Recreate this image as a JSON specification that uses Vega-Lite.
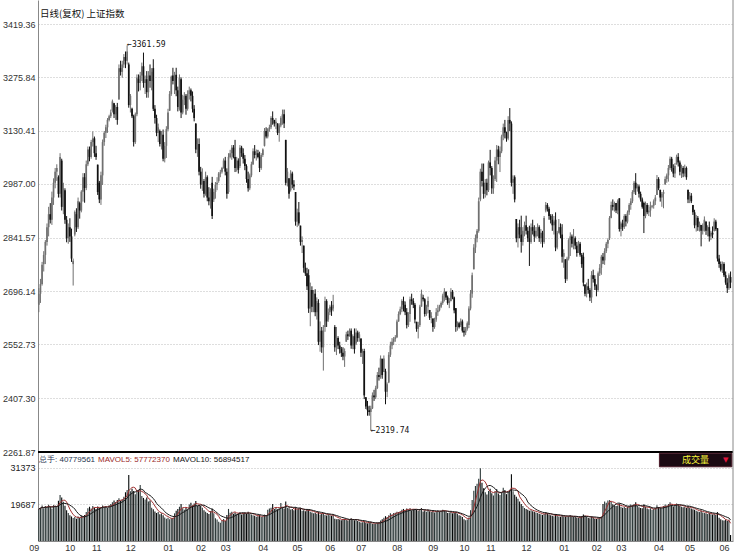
{
  "$schema": "https://vega.github.io/schema/vega-lite/v6.json",
  "width": 695,
  "height": 541,
  "autosize": {"type": "none"},
  "padding": {"left": 38, "top": 0, "right": 9, "bottom": 16},
  "background": "white",
  "config": {"view": {"stroke": null}, "font": "Liberation Sans"},
  "data": {"values": [
{"i":0,"o":2660,"h":2705,"l":2640,"c":2690,"v":18200},
{"i":1,"o":2690,"h":2730,"l":2665,"c":2716,"v":18600},
{"i":2,"o":2716,"h":2776,"l":2712,"c":2768,"v":19300},
{"i":3,"o":2770,"h":2805,"l":2750,"c":2795,"v":18400},
{"i":4,"o":2795,"h":2835,"l":2770,"c":2830,"v":19100},
{"i":5,"o":2830,"h":2880,"l":2820,"c":2870,"v":18700},
{"i":6,"o":2870,"h":2925,"l":2845,"c":2905,"v":19500},
{"i":7,"o":2905,"h":2935,"l":2880,"c":2890,"v":18900},
{"i":8,"o":2890,"h":2966,"l":2876,"c":2950,"v":18300},
{"i":9,"o":2950,"h":3002,"l":2930,"c":2990,"v":19400},
{"i":10,"o":2990,"h":3030,"l":2975,"c":3020,"v":19200},
{"i":11,"o":3020,"h":3040,"l":2995,"c":3030,"v":19000},
{"i":12,"o":3005,"h":3010,"l":2950,"c":2960,"v":20800},
{"i":13,"o":2960,"h":3070,"l":2950,"c":3060,"v":22600},
{"i":14,"o":3050,"h":3055,"l":2915,"c":2925,"v":21800},
{"i":15,"o":2925,"h":2990,"l":2905,"c":2975,"v":20500},
{"i":16,"o":2970,"h":2975,"l":2879,"c":2890,"v":19200},
{"i":17,"o":2890,"h":2900,"l":2829,"c":2840,"v":17800},
{"i":18,"o":2840,"h":2880,"l":2825,"c":2870,"v":16900},
{"i":19,"o":2870,"h":2894,"l":2830,"c":2845,"v":16200},
{"i":20,"o":2845,"h":2866,"l":2776,"c":2785,"v":15800},
{"i":21,"o":2770,"h":2785,"l":2712,"c":2779,"v":15300},
{"i":22,"o":2850,"h":2915,"l":2845,"c":2911,"v":15600},
{"i":23,"o":2905,"h":2921,"l":2857,"c":2870,"v":15100},
{"i":24,"o":2870,"h":2950,"l":2865,"c":2940,"v":15800},
{"i":25,"o":2935,"h":2939,"l":2893,"c":2915,"v":15300},
{"i":26,"o":2915,"h":2970,"l":2910,"c":2966,"v":16100},
{"i":27,"o":2966,"h":3016,"l":2939,"c":3005,"v":15700},
{"i":28,"o":3005,"h":3016,"l":2936,"c":2976,"v":16300},
{"i":29,"o":2976,"h":3050,"l":2970,"c":3040,"v":17200},
{"i":30,"o":3040,"h":3088,"l":3035,"c":3080,"v":18400},
{"i":31,"o":3080,"h":3088,"l":3048,"c":3060,"v":18900},
{"i":32,"o":3060,"h":3106,"l":3055,"c":3100,"v":18300},
{"i":33,"o":3100,"h":3129,"l":3088,"c":3110,"v":19100},
{"i":34,"o":3110,"h":3115,"l":3060,"c":3070,"v":18600},
{"i":35,"o":3070,"h":3090,"l":3052,"c":3060,"v":18200},
{"i":36,"o":3039,"h":3039,"l":2957,"c":2965,"v":19000},
{"i":37,"o":2990,"h":2995,"l":2935,"c":2945,"v":18500},
{"i":38,"o":2945,"h":3020,"l":2930,"c":3010,"v":18700},
{"i":39,"o":3010,"h":3107,"l":2984,"c":3100,"v":19300},
{"i":40,"o":3100,"h":3130,"l":3090,"c":3125,"v":18800},
{"i":41,"o":3125,"h":3147,"l":3111,"c":3140,"v":19100},
{"i":42,"o":3140,"h":3165,"l":3125,"c":3160,"v":18500},
{"i":43,"o":3160,"h":3174,"l":3156,"c":3170,"v":19400},
{"i":44,"o":3170,"h":3188,"l":3165,"c":3180,"v":19800},
{"i":45,"o":3185,"h":3215,"l":3180,"c":3210,"v":20300},
{"i":46,"o":3205,"h":3206,"l":3165,"c":3175,"v":20900},
{"i":47,"o":3175,"h":3200,"l":3160,"c":3195,"v":20400},
{"i":48,"o":3195,"h":3206,"l":3147,"c":3160,"v":21000},
{"i":49,"o":3215,"h":3310,"l":3215,"c":3300,"v":21600},
{"i":50,"o":3300,"h":3320,"l":3280,"c":3290,"v":20800},
{"i":51,"o":3290,"h":3320,"l":3274,"c":3310,"v":21300},
{"i":52,"o":3310,"h":3338,"l":3301,"c":3330,"v":22100},
{"i":53,"o":3330,"h":3345,"l":3300,"c":3320,"v":23500},
{"i":54,"o":3320,"h":3361.59,"l":3310,"c":3345,"v":24200},
{"i":55,"o":3310,"h":3315,"l":3193,"c":3200,"v":29000},
{"i":56,"o":3200,"h":3230,"l":3180,"c":3225,"v":23800},
{"i":57,"o":3190,"h":3193,"l":3165,"c":3170,"v":24600},
{"i":58,"o":3170,"h":3174,"l":3088,"c":3100,"v":23900},
{"i":59,"o":3100,"h":3180,"l":3095,"c":3175,"v":22900},
{"i":60,"o":3175,"h":3283,"l":3170,"c":3275,"v":23600},
{"i":61,"o":3270,"h":3283,"l":3237,"c":3260,"v":24100},
{"i":62,"o":3260,"h":3290,"l":3240,"c":3280,"v":25800},
{"i":63,"o":3280,"h":3315,"l":3265,"c":3305,"v":22300},
{"i":64,"o":3305,"h":3342,"l":3247,"c":3260,"v":21700},
{"i":65,"o":3260,"h":3280,"l":3230,"c":3270,"v":21200},
{"i":66,"o":3270,"h":3292,"l":3220,"c":3235,"v":21800},
{"i":67,"o":3235,"h":3292,"l":3220,"c":3280,"v":20600},
{"i":68,"o":3280,"h":3310,"l":3247,"c":3265,"v":20900},
{"i":69,"o":3265,"h":3300,"l":3240,"c":3290,"v":18600},
{"i":70,"o":3300,"h":3324,"l":3184,"c":3190,"v":18100},
{"i":71,"o":3190,"h":3200,"l":3150,"c":3165,"v":17400},
{"i":72,"o":3165,"h":3174,"l":3116,"c":3125,"v":16900},
{"i":73,"o":3125,"h":3150,"l":3100,"c":3140,"v":17200},
{"i":74,"o":3130,"h":3134,"l":3088,"c":3095,"v":16500},
{"i":75,"o":3095,"h":3130,"l":3080,"c":3120,"v":16800},
{"i":76,"o":3120,"h":3134,"l":3048,"c":3055,"v":16200},
{"i":77,"o":3055,"h":3100,"l":3045,"c":3090,"v":15500},
{"i":78,"o":3090,"h":3143,"l":3057,"c":3135,"v":15100},
{"i":79,"o":3135,"h":3190,"l":3130,"c":3180,"v":15400},
{"i":80,"o":3185,"h":3238,"l":3184,"c":3230,"v":14900},
{"i":81,"o":3230,"h":3280,"l":3225,"c":3277,"v":15200},
{"i":82,"o":3280,"h":3301,"l":3256,"c":3265,"v":15300},
{"i":83,"o":3265,"h":3290,"l":3230,"c":3282,"v":16800},
{"i":84,"o":3282,"h":3301,"l":3224,"c":3240,"v":17600},
{"i":85,"o":3240,"h":3250,"l":3183,"c":3195,"v":18200},
{"i":86,"o":3190,"h":3283,"l":3185,"c":3275,"v":18900},
{"i":87,"o":3270,"h":3275,"l":3165,"c":3180,"v":19800},
{"i":88,"o":3180,"h":3228,"l":3175,"c":3215,"v":18400},
{"i":89,"o":3215,"h":3235,"l":3200,"c":3225,"v":17900},
{"i":90,"o":3225,"h":3230,"l":3174,"c":3190,"v":18500},
{"i":91,"o":3190,"h":3240,"l":3185,"c":3230,"v":18100},
{"i":92,"o":3230,"h":3250,"l":3215,"c":3240,"v":19600},
{"i":93,"o":3240,"h":3245,"l":3210,"c":3225,"v":20200},
{"i":94,"o":3225,"h":3237,"l":3180,"c":3190,"v":19300},
{"i":95,"o":3190,"h":3200,"l":3156,"c":3165,"v":19900},
{"i":96,"o":3150,"h":3151,"l":3070,"c":3080,"v":20700},
{"i":97,"o":3080,"h":3110,"l":3060,"c":3095,"v":19200},
{"i":98,"o":3095,"h":3110,"l":3010,"c":3020,"v":19500},
{"i":99,"o":3020,"h":3033,"l":2974,"c":2985,"v":19100},
{"i":100,"o":2985,"h":3029,"l":2968,"c":2995,"v":18600},
{"i":101,"o":2995,"h":3000,"l":2950,"c":2960,"v":17800},
{"i":102,"o":2960,"h":3020,"l":2955,"c":3005,"v":17300},
{"i":103,"o":3005,"h":3010,"l":2940,"c":2950,"v":16900},
{"i":104,"o":2950,"h":2978,"l":2929,"c":2940,"v":16600},
{"i":105,"o":2940,"h":2975,"l":2920,"c":2965,"v":17500},
{"i":106,"o":2990,"h":3006,"l":2892,"c":2900,"v":18300},
{"i":107,"o":2945,"h":2974,"l":2938,"c":2965,"v":16800},
{"i":108,"o":2965,"h":2992,"l":2947,"c":2985,"v":15200},
{"i":109,"o":2985,"h":3005,"l":2970,"c":2990,"v":14800},
{"i":110,"o":2995,"h":3019,"l":2990,"c":3015,"v":14100},
{"i":111,"o":3015,"h":3025,"l":3005,"c":3018,"v":13800},
{"i":112,"o":3020,"h":3033,"l":3015,"c":3030,"v":14500},
{"i":113,"o":3030,"h":3056,"l":3028,"c":3050,"v":15000},
{"i":114,"o":3050,"h":3060,"l":3010,"c":3020,"v":14400},
{"i":115,"o":3020,"h":3029,"l":2947,"c":2960,"v":16300},
{"i":116,"o":2965,"h":3070,"l":2960,"c":3060,"v":18200},
{"i":117,"o":3060,"h":3079,"l":3056,"c":3070,"v":17000},
{"i":118,"o":3070,"h":3092,"l":3052,"c":3085,"v":17300},
{"i":119,"o":3085,"h":3092,"l":3056,"c":3060,"v":16700},
{"i":120,"o":3060,"h":3106,"l":3019,"c":3030,"v":17100},
{"i":121,"o":3030,"h":3060,"l":3020,"c":3050,"v":16500},
{"i":122,"o":3050,"h":3056,"l":3015,"c":3025,"v":16800},
{"i":123,"o":3035,"h":3092,"l":3030,"c":3085,"v":17200},
{"i":124,"o":3085,"h":3090,"l":3060,"c":3070,"v":16400},
{"i":125,"o":3070,"h":3083,"l":3042,"c":3055,"v":16900},
{"i":126,"o":3055,"h":3065,"l":3024,"c":3035,"v":17100},
{"i":127,"o":3035,"h":3040,"l":2990,"c":3000,"v":16700},
{"i":128,"o":3000,"h":3020,"l":2966,"c":2975,"v":17300},
{"i":129,"o":2975,"h":3015,"l":2970,"c":3010,"v":16600},
{"i":130,"o":3010,"h":3047,"l":3005,"c":3040,"v":16400},
{"i":131,"o":3040,"h":3083,"l":3038,"c":3075,"v":16200},
{"i":132,"o":3075,"h":3092,"l":3056,"c":3065,"v":16000},
{"i":133,"o":3065,"h":3080,"l":3050,"c":3070,"v":15700},
{"i":134,"o":3070,"h":3079,"l":3056,"c":3060,"v":15900},
{"i":135,"o":3060,"h":3074,"l":3019,"c":3030,"v":16300},
{"i":136,"o":3030,"h":3070,"l":3025,"c":3065,"v":15600},
{"i":137,"o":3065,"h":3083,"l":3060,"c":3080,"v":15800},
{"i":138,"o":3090,"h":3138,"l":3088,"c":3130,"v":16400},
{"i":139,"o":3130,"h":3140,"l":3110,"c":3115,"v":16100},
{"i":140,"o":3115,"h":3138,"l":3110,"c":3135,"v":17900},
{"i":141,"o":3135,"h":3147,"l":3128,"c":3140,"v":18300},
{"i":142,"o":3140,"h":3170,"l":3135,"c":3165,"v":18600},
{"i":143,"o":3165,"h":3183,"l":3147,"c":3160,"v":19800},
{"i":144,"o":3160,"h":3160,"l":3142,"c":3150,"v":18200},
{"i":145,"o":3150,"h":3165,"l":3135,"c":3155,"v":18500},
{"i":146,"o":3150,"h":3151,"l":3119,"c":3125,"v":18100},
{"i":147,"o":3125,"h":3151,"l":3101,"c":3145,"v":18400},
{"i":148,"o":3145,"h":3170,"l":3140,"c":3165,"v":20100},
{"i":149,"o":3165,"h":3188,"l":3147,"c":3175,"v":18600},
{"i":150,"o":3175,"h":3188,"l":3138,"c":3150,"v":18300},
{"i":151,"o":3106,"h":3106,"l":2983,"c":2990,"v":20600},
{"i":152,"o":2990,"h":3030,"l":2980,"c":3020,"v":18500},
{"i":153,"o":3002,"h":3002,"l":2947,"c":2960,"v":18400},
{"i":154,"o":2970,"h":3024,"l":2966,"c":3015,"v":18000},
{"i":155,"o":3015,"h":3020,"l":2975,"c":2985,"v":18200},
{"i":156,"o":2985,"h":2997,"l":2970,"c":2980,"v":17800},
{"i":157,"o":2965,"h":2965,"l":2874,"c":2885,"v":18700},
{"i":158,"o":2885,"h":2920,"l":2870,"c":2910,"v":18100},
{"i":159,"o":2910,"h":2938,"l":2874,"c":2880,"v":18300},
{"i":160,"o":2874,"h":2874,"l":2820,"c":2830,"v":18500},
{"i":161,"o":2830,"h":2845,"l":2800,"c":2835,"v":17600},
{"i":162,"o":2820,"h":2820,"l":2747,"c":2760,"v":17800},
{"i":163,"o":2760,"h":2774,"l":2738,"c":2745,"v":17500},
{"i":164,"o":2745,"h":2760,"l":2700,"c":2710,"v":17900},
{"i":165,"o":2740,"h":2756,"l":2638,"c":2650,"v":18000},
{"i":166,"o":2650,"h":2720,"l":2602,"c":2700,"v":17300},
{"i":167,"o":2700,"h":2710,"l":2640,"c":2655,"v":17100},
{"i":168,"o":2655,"h":2700,"l":2640,"c":2690,"v":16800},
{"i":169,"o":2690,"h":2702,"l":2629,"c":2640,"v":17000},
{"i":170,"o":2640,"h":2680,"l":2620,"c":2670,"v":16600},
{"i":171,"o":2665,"h":2675,"l":2551,"c":2560,"v":17200},
{"i":172,"o":2560,"h":2615,"l":2533,"c":2590,"v":16400},
{"i":173,"o":2590,"h":2600,"l":2530,"c":2545,"v":16700},
{"i":174,"o":2545,"h":2605,"l":2482,"c":2590,"v":16900},
{"i":175,"o":2600,"h":2682,"l":2587,"c":2670,"v":16300},
{"i":176,"o":2670,"h":2675,"l":2600,"c":2615,"v":16100},
{"i":177,"o":2620,"h":2650,"l":2614,"c":2640,"v":16500},
{"i":178,"o":2640,"h":2660,"l":2632,"c":2655,"v":16200},
{"i":179,"o":2655,"h":2670,"l":2630,"c":2645,"v":16000},
{"i":180,"o":2650,"h":2687,"l":2642,"c":2660,"v":16400},
{"i":181,"o":2600,"h":2605,"l":2533,"c":2545,"v":15100},
{"i":182,"o":2545,"h":2600,"l":2524,"c":2570,"v":14900},
{"i":183,"o":2570,"h":2575,"l":2540,"c":2550,"v":15000},
{"i":184,"o":2550,"h":2560,"l":2528,"c":2540,"v":14800},
{"i":185,"o":2540,"h":2546,"l":2519,"c":2530,"v":14600},
{"i":186,"o":2530,"h":2545,"l":2510,"c":2520,"v":14900},
{"i":187,"o":2520,"h":2542,"l":2492,"c":2535,"v":15100},
{"i":188,"o":2560,"h":2587,"l":2560,"c":2580,"v":14700},
{"i":189,"o":2580,"h":2590,"l":2565,"c":2575,"v":14500},
{"i":190,"o":2575,"h":2596,"l":2574,"c":2590,"v":14900},
{"i":191,"o":2590,"h":2596,"l":2541,"c":2550,"v":15200},
{"i":192,"o":2550,"h":2580,"l":2540,"c":2575,"v":14800},
{"i":193,"o":2575,"h":2596,"l":2528,"c":2540,"v":14600},
{"i":194,"o":2555,"h":2596,"l":2551,"c":2585,"v":14700},
{"i":195,"o":2585,"h":2590,"l":2560,"c":2570,"v":14400},
{"i":196,"o":2570,"h":2587,"l":2560,"c":2580,"v":14100},
{"i":197,"o":2569,"h":2569,"l":2519,"c":2530,"v":13900},
{"i":198,"o":2530,"h":2541,"l":2500,"c":2535,"v":14000},
{"i":199,"o":2535,"h":2541,"l":2405,"c":2415,"v":14300},
{"i":200,"o":2410,"h":2410,"l":2378,"c":2385,"v":13800},
{"i":201,"o":2385,"h":2400,"l":2360,"c":2375,"v":13600},
{"i":202,"o":2375,"h":2387,"l":2360,"c":2370,"v":13700},
{"i":203,"o":2370,"h":2387,"l":2319.74,"c":2380,"v":14100},
{"i":204,"o":2380,"h":2423,"l":2378,"c":2415,"v":13500},
{"i":205,"o":2415,"h":2430,"l":2400,"c":2410,"v":13400},
{"i":206,"o":2410,"h":2441,"l":2405,"c":2435,"v":13600},
{"i":207,"o":2435,"h":2478,"l":2432,"c":2470,"v":13800},
{"i":208,"o":2470,"h":2490,"l":2455,"c":2465,"v":13900},
{"i":209,"o":2465,"h":2523,"l":2460,"c":2515,"v":14500},
{"i":210,"o":2514,"h":2514,"l":2460,"c":2470,"v":14900},
{"i":211,"o":2478,"h":2523,"l":2478,"c":2515,"v":15400},
{"i":212,"o":2480,"h":2487,"l":2391,"c":2425,"v":15900},
{"i":213,"o":2425,"h":2450,"l":2410,"c":2445,"v":15600},
{"i":214,"o":2450,"h":2532,"l":2448,"c":2525,"v":16200},
{"i":215,"o":2525,"h":2560,"l":2519,"c":2550,"v":16800},
{"i":216,"o":2550,"h":2570,"l":2540,"c":2560,"v":16400},
{"i":217,"o":2560,"h":2573,"l":2551,"c":2568,"v":16900},
{"i":218,"o":2568,"h":2578,"l":2560,"c":2572,"v":17000},
{"i":219,"o":2572,"h":2620,"l":2570,"c":2615,"v":17300},
{"i":220,"o":2615,"h":2642,"l":2614,"c":2635,"v":17200},
{"i":221,"o":2635,"h":2655,"l":2632,"c":2648,"v":17500},
{"i":222,"o":2648,"h":2675,"l":2640,"c":2670,"v":17900},
{"i":223,"o":2670,"h":2682,"l":2642,"c":2660,"v":18200},
{"i":224,"o":2660,"h":2669,"l":2632,"c":2640,"v":17800},
{"i":225,"o":2640,"h":2651,"l":2596,"c":2605,"v":18300},
{"i":226,"o":2605,"h":2640,"l":2600,"c":2635,"v":18000},
{"i":227,"o":2635,"h":2682,"l":2614,"c":2675,"v":18400},
{"i":228,"o":2675,"h":2690,"l":2660,"c":2670,"v":17700},
{"i":229,"o":2670,"h":2678,"l":2651,"c":2660,"v":18100},
{"i":230,"o":2660,"h":2665,"l":2610,"c":2620,"v":18200},
{"i":231,"o":2614,"h":2614,"l":2587,"c":2595,"v":17900},
{"i":232,"o":2595,"h":2614,"l":2569,"c":2605,"v":17600},
{"i":233,"o":2605,"h":2660,"l":2600,"c":2655,"v":18100},
{"i":234,"o":2655,"h":2701,"l":2655,"c":2690,"v":18500},
{"i":235,"o":2680,"h":2687,"l":2669,"c":2675,"v":17400},
{"i":236,"o":2675,"h":2678,"l":2628,"c":2635,"v":17800},
{"i":237,"o":2635,"h":2660,"l":2630,"c":2655,"v":17300},
{"i":238,"o":2655,"h":2682,"l":2637,"c":2670,"v":17900},
{"i":239,"o":2646,"h":2646,"l":2619,"c":2625,"v":17500},
{"i":240,"o":2625,"h":2640,"l":2610,"c":2630,"v":17200},
{"i":241,"o":2623,"h":2623,"l":2587,"c":2600,"v":17600},
{"i":242,"o":2600,"h":2625,"l":2595,"c":2620,"v":17100},
{"i":243,"o":2620,"h":2651,"l":2614,"c":2640,"v":17400},
{"i":244,"o":2640,"h":2660,"l":2630,"c":2645,"v":17800},
{"i":245,"o":2645,"h":2660,"l":2642,"c":2655,"v":17400},
{"i":246,"o":2655,"h":2669,"l":2651,"c":2665,"v":17600},
{"i":247,"o":2665,"h":2690,"l":2660,"c":2685,"v":17900},
{"i":248,"o":2685,"h":2705,"l":2669,"c":2695,"v":17700},
{"i":249,"o":2695,"h":2696,"l":2673,"c":2680,"v":17300},
{"i":250,"o":2680,"h":2685,"l":2660,"c":2665,"v":16900},
{"i":251,"o":2665,"h":2678,"l":2651,"c":2670,"v":17100},
{"i":252,"o":2670,"h":2705,"l":2669,"c":2695,"v":17300},
{"i":253,"o":2695,"h":2700,"l":2675,"c":2680,"v":16800},
{"i":254,"o":2680,"h":2682,"l":2637,"c":2645,"v":17000},
{"i":255,"o":2651,"h":2651,"l":2587,"c":2600,"v":17200},
{"i":256,"o":2600,"h":2615,"l":2590,"c":2610,"v":16700},
{"i":257,"o":2610,"h":2614,"l":2596,"c":2600,"v":16200},
{"i":258,"o":2605,"h":2623,"l":2600,"c":2615,"v":16000},
{"i":259,"o":2615,"h":2620,"l":2585,"c":2590,"v":15600},
{"i":260,"o":2590,"h":2600,"l":2574,"c":2585,"v":14900},
{"i":261,"o":2585,"h":2600,"l":2578,"c":2595,"v":14600},
{"i":262,"o":2595,"h":2615,"l":2590,"c":2610,"v":14800},
{"i":263,"o":2605,"h":2656,"l":2597,"c":2650,"v":15500},
{"i":264,"o":2650,"h":2700,"l":2645,"c":2690,"v":17800},
{"i":265,"o":2690,"h":2747,"l":2679,"c":2740,"v":21000},
{"i":266,"o":2756,"h":2824,"l":2756,"c":2815,"v":24000},
{"i":267,"o":2815,"h":2850,"l":2800,"c":2840,"v":25500},
{"i":268,"o":2840,"h":2865,"l":2829,"c":2860,"v":26200},
{"i":269,"o":2860,"h":2950,"l":2855,"c":2940,"v":27800},
{"i":270,"o":2945,"h":3028,"l":2940,"c":3020,"v":31100},
{"i":271,"o":3020,"h":3042,"l":2980,"c":2995,"v":26500},
{"i":272,"o":2990,"h":3042,"l":2947,"c":2960,"v":24800},
{"i":273,"o":2960,"h":3000,"l":2950,"c":2990,"v":23500},
{"i":274,"o":2990,"h":3001,"l":2956,"c":2970,"v":22800},
{"i":275,"o":2970,"h":3050,"l":2965,"c":3045,"v":23900},
{"i":276,"o":3045,"h":3079,"l":3010,"c":3030,"v":24600},
{"i":277,"o":3030,"h":3035,"l":2960,"c":2975,"v":23200},
{"i":278,"o":2975,"h":3010,"l":2960,"c":3000,"v":22500},
{"i":279,"o":3000,"h":3060,"l":2995,"c":3050,"v":23800},
{"i":280,"o":3050,"h":3092,"l":2992,"c":3080,"v":24500},
{"i":281,"o":3080,"h":3090,"l":3040,"c":3060,"v":23100},
{"i":282,"o":3060,"h":3088,"l":3019,"c":3075,"v":22600},
{"i":283,"o":3075,"h":3120,"l":3070,"c":3115,"v":23400},
{"i":284,"o":3115,"h":3150,"l":3105,"c":3140,"v":24900},
{"i":285,"o":3140,"h":3160,"l":3110,"c":3125,"v":24200},
{"i":286,"o":3125,"h":3128,"l":3101,"c":3110,"v":22900},
{"i":287,"o":3110,"h":3170,"l":3105,"c":3160,"v":23600},
{"i":288,"o":3160,"h":3192,"l":3130,"c":3150,"v":24300},
{"i":289,"o":3150,"h":3156,"l":2980,"c":2990,"v":29200},
{"i":290,"o":2990,"h":3010,"l":2960,"c":3000,"v":23800},
{"i":291,"o":3005,"h":3010,"l":2937,"c":2945,"v":22700},
{"i":292,"o":2892,"h":2892,"l":2829,"c":2840,"v":22100},
{"i":293,"o":2840,"h":2880,"l":2815,"c":2870,"v":21400},
{"i":294,"o":2870,"h":2890,"l":2840,"c":2850,"v":20600},
{"i":295,"o":2850,"h":2901,"l":2801,"c":2830,"v":19800},
{"i":296,"o":2830,"h":2870,"l":2820,"c":2860,"v":19100},
{"i":297,"o":2860,"h":2885,"l":2845,"c":2875,"v":18500},
{"i":298,"o":2875,"h":2901,"l":2850,"c":2860,"v":18200},
{"i":299,"o":2860,"h":2870,"l":2830,"c":2840,"v":17900},
{"i":300,"o":2840,"h":2874,"l":2765,"c":2830,"v":17600},
{"i":301,"o":2830,"h":2880,"l":2825,"c":2870,"v":17800},
{"i":302,"o":2870,"h":2890,"l":2850,"c":2860,"v":17500},
{"i":303,"o":2860,"h":2875,"l":2830,"c":2845,"v":17300},
{"i":304,"o":2845,"h":2870,"l":2840,"c":2860,"v":17100},
{"i":305,"o":2860,"h":2880,"l":2845,"c":2870,"v":16900},
{"i":306,"o":2870,"h":2875,"l":2830,"c":2840,"v":16700},
{"i":307,"o":2840,"h":2865,"l":2825,"c":2855,"v":16500},
{"i":308,"o":2855,"h":2860,"l":2815,"c":2830,"v":16300},
{"i":309,"o":2830,"h":2900,"l":2825,"c":2895,"v":16600},
{"i":310,"o":2915,"h":2938,"l":2910,"c":2930,"v":17200},
{"i":311,"o":2930,"h":2935,"l":2912,"c":2920,"v":16800},
{"i":312,"o":2920,"h":2925,"l":2890,"c":2900,"v":16400},
{"i":313,"o":2900,"h":2905,"l":2880,"c":2890,"v":16200},
{"i":314,"o":2890,"h":2905,"l":2860,"c":2875,"v":16000},
{"i":315,"o":2875,"h":2900,"l":2850,"c":2885,"v":15900},
{"i":316,"o":2890,"h":2910,"l":2805,"c":2815,"v":16600},
{"i":317,"o":2815,"h":2860,"l":2810,"c":2855,"v":16100},
{"i":318,"o":2855,"h":2892,"l":2853,"c":2870,"v":15800},
{"i":319,"o":2870,"h":2880,"l":2840,"c":2850,"v":15700},
{"i":320,"o":2850,"h":2878,"l":2774,"c":2790,"v":16300},
{"i":321,"o":2790,"h":2810,"l":2760,"c":2800,"v":15900},
{"i":322,"o":2783,"h":2783,"l":2719,"c":2730,"v":15800},
{"i":323,"o":2730,"h":2790,"l":2725,"c":2785,"v":15600},
{"i":324,"o":2785,"h":2840,"l":2780,"c":2835,"v":15900},
{"i":325,"o":2835,"h":2856,"l":2792,"c":2845,"v":16200},
{"i":326,"o":2845,"h":2850,"l":2815,"c":2825,"v":15800},
{"i":327,"o":2825,"h":2865,"l":2810,"c":2840,"v":15600},
{"i":328,"o":2840,"h":2845,"l":2810,"c":2820,"v":15700},
{"i":329,"o":2820,"h":2830,"l":2790,"c":2800,"v":15500},
{"i":330,"o":2805,"h":2833,"l":2800,"c":2825,"v":15400},
{"i":331,"o":2825,"h":2830,"l":2790,"c":2795,"v":15600},
{"i":332,"o":2795,"h":2800,"l":2760,"c":2770,"v":15900},
{"i":333,"o":2790,"h":2801,"l":2710,"c":2720,"v":16400},
{"i":334,"o":2715,"h":2715,"l":2683,"c":2690,"v":16100},
{"i":335,"o":2690,"h":2720,"l":2680,"c":2710,"v":15700},
{"i":336,"o":2710,"h":2730,"l":2690,"c":2700,"v":15300},
{"i":337,"o":2700,"h":2705,"l":2670,"c":2680,"v":15200},
{"i":338,"o":2680,"h":2751,"l":2665,"c":2740,"v":15800},
{"i":339,"o":2740,"h":2755,"l":2720,"c":2730,"v":15400},
{"i":340,"o":2730,"h":2740,"l":2700,"c":2710,"v":15100},
{"i":341,"o":2710,"h":2715,"l":2683,"c":2700,"v":15000},
{"i":342,"o":2700,"h":2750,"l":2695,"c":2745,"v":15300},
{"i":343,"o":2745,"h":2770,"l":2738,"c":2760,"v":15600},
{"i":344,"o":2760,"h":2795,"l":2741,"c":2790,"v":15800},
{"i":345,"o":2790,"h":2800,"l":2770,"c":2780,"v":19800},
{"i":346,"o":2780,"h":2813,"l":2768,"c":2805,"v":20600},
{"i":347,"o":2805,"h":2830,"l":2800,"c":2825,"v":20200},
{"i":348,"o":2825,"h":2840,"l":2813,"c":2835,"v":20900},
{"i":349,"o":2840,"h":2900,"l":2835,"c":2895,"v":21000},
{"i":350,"o":2895,"h":2939,"l":2894,"c":2930,"v":20400},
{"i":351,"o":2930,"h":2945,"l":2915,"c":2925,"v":19700},
{"i":352,"o":2925,"h":2939,"l":2912,"c":2935,"v":19400},
{"i":353,"o":2935,"h":2935,"l":2908,"c":2915,"v":19100},
{"i":354,"o":2915,"h":2945,"l":2905,"c":2940,"v":19300},
{"i":355,"o":2948,"h":2948,"l":2858,"c":2865,"v":19900},
{"i":356,"o":2865,"h":2885,"l":2845,"c":2880,"v":18900},
{"i":357,"o":2880,"h":2890,"l":2860,"c":2870,"v":18600},
{"i":358,"o":2870,"h":2905,"l":2865,"c":2900,"v":18800},
{"i":359,"o":2900,"h":2905,"l":2872,"c":2885,"v":18500},
{"i":360,"o":2885,"h":2915,"l":2880,"c":2910,"v":18900},
{"i":361,"o":2910,"h":2935,"l":2903,"c":2930,"v":19200},
{"i":362,"o":2930,"h":2948,"l":2917,"c":2940,"v":19600},
{"i":363,"o":2940,"h":2970,"l":2935,"c":2965,"v":19400},
{"i":364,"o":2965,"h":2995,"l":2960,"c":2990,"v":19800},
{"i":365,"o":2990,"h":3016,"l":2957,"c":2975,"v":20300},
{"i":366,"o":2975,"h":2987,"l":2966,"c":2980,"v":19100},
{"i":367,"o":2980,"h":2985,"l":2950,"c":2960,"v":18700},
{"i":368,"o":2960,"h":2966,"l":2939,"c":2945,"v":18500},
{"i":369,"o":2945,"h":2950,"l":2920,"c":2925,"v":18400},
{"i":370,"o":2935,"h":2939,"l":2854,"c":2900,"v":19700},
{"i":371,"o":2900,"h":2939,"l":2894,"c":2930,"v":18900},
{"i":372,"o":2930,"h":2935,"l":2905,"c":2910,"v":18300},
{"i":373,"o":2910,"h":2930,"l":2900,"c":2915,"v":18100},
{"i":374,"o":2915,"h":2939,"l":2898,"c":2925,"v":18400},
{"i":375,"o":2925,"h":2930,"l":2921,"c":2928,"v":17900},
{"i":376,"o":2928,"h":2945,"l":2920,"c":2940,"v":18200},
{"i":377,"o":2940,"h":2957,"l":2930,"c":2950,"v":18500},
{"i":378,"o":2957,"h":3011,"l":2957,"c":3000,"v":19400},
{"i":379,"o":3000,"h":3005,"l":2970,"c":2975,"v":18800},
{"i":380,"o":2971,"h":2971,"l":2939,"c":2950,"v":18600},
{"i":381,"o":2950,"h":2965,"l":2925,"c":2960,"v":18400},
{"i":382,"o":2960,"h":2971,"l":2921,"c":2965,"v":19100},
{"i":383,"o":2985,"h":3007,"l":2985,"c":3000,"v":19600},
{"i":384,"o":3000,"h":3015,"l":2990,"c":3010,"v":19300},
{"i":385,"o":3010,"h":3038,"l":2993,"c":3030,"v":19800},
{"i":386,"o":3030,"h":3061,"l":3025,"c":3055,"v":20300},
{"i":387,"o":3055,"h":3060,"l":3020,"c":3030,"v":19500},
{"i":388,"o":3030,"h":3040,"l":3005,"c":3015,"v":19000},
{"i":389,"o":3015,"h":3043,"l":3003,"c":3035,"v":19200},
{"i":390,"o":3040,"h":3066,"l":3039,"c":3060,"v":19900},
{"i":391,"o":3060,"h":3070,"l":3034,"c":3045,"v":19600},
{"i":392,"o":3045,"h":3050,"l":3010,"c":3020,"v":19100},
{"i":393,"o":3020,"h":3039,"l":3003,"c":3030,"v":18900},
{"i":394,"o":3030,"h":3035,"l":3005,"c":3015,"v":18700},
{"i":395,"o":3015,"h":3039,"l":3007,"c":3030,"v":18800},
{"i":396,"o":3030,"h":3034,"l":2998,"c":3005,"v":18500},
{"i":397,"o":2971,"h":2971,"l":2935,"c":2945,"v":19200},
{"i":398,"o":2945,"h":2965,"l":2935,"c":2955,"v":18600},
{"i":399,"o":2955,"h":2962,"l":2935,"c":2940,"v":18300},
{"i":400,"o":2930,"h":2930,"l":2903,"c":2910,"v":18100},
{"i":401,"o":2910,"h":2917,"l":2867,"c":2875,"v":17900},
{"i":402,"o":2875,"h":2903,"l":2858,"c":2895,"v":17600},
{"i":403,"o":2895,"h":2900,"l":2860,"c":2870,"v":17400},
{"i":404,"o":2870,"h":2885,"l":2858,"c":2880,"v":17200},
{"i":405,"o":2876,"h":2876,"l":2818,"c":2860,"v":17700},
{"i":406,"o":2860,"h":2880,"l":2850,"c":2875,"v":17100},
{"i":407,"o":2875,"h":2899,"l":2858,"c":2890,"v":16900},
{"i":408,"o":2885,"h":2885,"l":2849,"c":2860,"v":16800},
{"i":409,"o":2860,"h":2875,"l":2845,"c":2870,"v":16600},
{"i":410,"o":2870,"h":2885,"l":2831,"c":2845,"v":16900},
{"i":411,"o":2845,"h":2860,"l":2835,"c":2855,"v":16500},
{"i":412,"o":2855,"h":2872,"l":2840,"c":2850,"v":16400},
{"i":413,"o":2860,"h":2894,"l":2858,"c":2885,"v":16700},
{"i":414,"o":2885,"h":2890,"l":2860,"c":2865,"v":16300},
{"i":415,"o":2867,"h":2867,"l":2777,"c":2785,"v":17200},
{"i":416,"o":2785,"h":2795,"l":2760,"c":2770,"v":15400},
{"i":417,"o":2770,"h":2777,"l":2750,"c":2755,"v":14900},
{"i":418,"o":2755,"h":2777,"l":2746,"c":2770,"v":14600},
{"i":419,"o":2770,"h":2775,"l":2735,"c":2740,"v":14500},
{"i":420,"o":2740,"h":2750,"l":2714,"c":2720,"v":14800},
{"i":421,"o":2720,"h":2732,"l":2692,"c":2705,"v":14400},
{"i":422,"o":2705,"h":2745,"l":2700,"c":2740,"v":14600},
{"i":423,"o":2735,"h":2750,"l":2705,"c":2720,"v":9900}
  ]},
  "encoding": {
    "x": {
      "field": "i", "type": "quantitative",
      "scale": {"domain": [-0.5, 424.5], "nice": false, "zero": false},
      "axis": {
        "values": [0,22,38,59,82,102,117,140,161,181,200,222,244,263,279,301,324,344,359,382,401,422],
        "labelExpr": "['09','10','11','12','01','02','03','04','05','06','07','08','09','10','11','12','01','02','03','04','05','06'][indexof([0,22,38,59,82,102,117,140,161,181,200,222,244,263,279,301,324,344,359,382,401,422], datum.value)]",
        "labelAlign": "right", "labelFlush": false, "labelOverlap": false, "labelBound": false,
        "ticks": false, "grid": false, "title": null,
        "domainColor": "#888888", "labelFontSize": 9, "labelColor": "#333333", "labelPadding": 2, "labelFont": "Liberation Sans"
      }
    }
  },
  "layer": [
    {
      "mark": {"type": "rule", "strokeWidth": 1},
      "encoding": {
        "y": {
          "field": "l", "type": "quantitative",
          "scale": {"domain": [2021.18, 3484.27], "nice": false, "zero": false},
          "axis": {
            "orient": "left",
            "values": [2261.87, 2407.30, 2552.73, 2696.14, 2841.57, 2987.00, 3130.41, 3275.84, 3419.36],
            "format": ".2f", "ticks": false, "grid": true, "gridDash": [1, 2], "gridColor": "#bdbdbd",
            "domainColor": "#888888", "labelFontSize": 9, "labelFont": "Liberation Sans", "labelColor": "#333333",
            "labelPadding": 3, "title": null, "labelOverlap": false, "labelFlush": false
          }
        },
        "y2": {"field": "h"},
        "color": {"condition": {"test": "datum.c >= datum.o", "value": "#707070"}, "value": "#111111"}
      }
    },
    {
      "mark": {"type": "rule", "strokeWidth": 1.7},
      "encoding": {
        "y": {"field": "o", "type": "quantitative", "scale": {"domain": [2021.18, 3484.27], "nice": false, "zero": false}, "axis": null},
        "y2": {"field": "c"},
        "color": {"condition": {"test": "datum.c >= datum.o", "value": "#707070"}, "value": "#111111"}
      }
    },
    {
      "transform": [{"filter": "datum.i == 0"}],
      "mark": {"type": "rule", "color": "#000000", "strokeWidth": 2},
      "encoding": {
        "x": {"datum": -0.5}, "x2": {"datum": 424.5},
        "y": {"datum": 2261.87, "type": "quantitative", "scale": {"domain": [2021.18, 3484.27], "nice": false, "zero": false}, "axis": null}
      }
    },
    {
      "transform": [{"filter": "datum.i == 0"}],
      "mark": {"type": "rule", "color": "#888888", "strokeWidth": 1},
      "encoding": {"x": {"datum": 424.5}}
    },
    {
      "transform": [{"filter": "datum.i == 0"}],
      "mark": {"type": "text", "align": "left", "baseline": "middle", "dx": 2, "font": "Noto Sans CJK SC", "fontSize": 9.5, "color": "#111111", "text": "日线(复权)  上证指数"},
      "encoding": {
        "x": {"datum": -0.5},
        "y": {"datum": 3446.4, "type": "quantitative", "scale": {"domain": [2021.18, 3484.27], "nice": false, "zero": false}, "axis": null}
      }
    },
    {
      "transform": [{"filter": "datum.i == 54"}],
      "mark": {"type": "text", "align": "left", "baseline": "middle", "dx": 0, "font": "DejaVu Sans Mono", "fontSize": 8, "color": "#111111", "text": "←3361.59"},
      "encoding": {
        "y": {"field": "h", "type": "quantitative", "scale": {"domain": [2021.18, 3484.27], "nice": false, "zero": false}, "axis": null}
      }
    },
    {
      "transform": [{"filter": "datum.i == 203"}],
      "mark": {"type": "text", "align": "left", "baseline": "middle", "dx": 0, "font": "DejaVu Sans Mono", "fontSize": 8, "color": "#111111", "text": "←2319.74"},
      "encoding": {
        "y": {"field": "l", "type": "quantitative", "scale": {"domain": [2021.18, 3484.27], "nice": false, "zero": false}, "axis": null}
      }
    },
    {
      "mark": {"type": "rule", "strokeWidth": 1.1},
      "encoding": {
        "y": {
          "field": "v", "type": "quantitative",
          "scale": {"domain": [8001, 180039], "nice": false, "zero": false},
          "axis": {
            "orient": "left", "values": [19687, 31373], "format": "d",
            "ticks": false, "grid": true, "gridDash": [1, 2], "gridColor": "#bdbdbd", "domain": false,
            "labelFontSize": 9, "labelFont": "Liberation Sans", "labelColor": "#222222", "labelPadding": 3,
            "title": null, "labelOverlap": false, "labelFlush": false
          }
        },
        "y2": {"datum": 8001},
        "color": {"condition": {"test": "datum.c >= datum.o", "value": "#2c3838"}, "value": "#050808"}
      }
    },
    {
      "transform": [{"window": [{"op": "mean", "field": "v", "as": "ma5"}], "frame": [-4, 0], "sort": [{"field": "i"}]}],
      "mark": {"type": "line", "strokeWidth": 1, "color": "#a03030"},
      "encoding": {"y": {"field": "ma5", "type": "quantitative", "scale": {"domain": [8001, 180039], "nice": false, "zero": false}, "axis": null}}
    },
    {
      "transform": [{"window": [{"op": "mean", "field": "v", "as": "ma10"}], "frame": [-9, 0], "sort": [{"field": "i"}]}],
      "mark": {"type": "line", "strokeWidth": 1, "color": "#1a1a1a"},
      "encoding": {"y": {"field": "ma10", "type": "quantitative", "scale": {"domain": [8001, 180039], "nice": false, "zero": false}, "axis": null}}
    },
    {
      "transform": [{"filter": "datum.i == 0"}],
      "mark": {"type": "text", "align": "left", "baseline": "middle", "dx": 1, "font": "Liberation Sans", "fontSize": 8, "color": "#1f3550", "text": "总手: 40779561"},
      "encoding": {"x": {"datum": -0.5}, "y": {"datum": 33900, "type": "quantitative", "scale": {"domain": [8001, 180039], "nice": false, "zero": false}, "axis": null}}
    },
    {
      "transform": [{"filter": "datum.i == 0"}],
      "mark": {"type": "text", "align": "left", "baseline": "middle", "dx": 60, "font": "Liberation Sans", "fontSize": 8, "color": "#9a2a2a", "text": "MAVOL5: 57772370"},
      "encoding": {"x": {"datum": -0.5}, "y": {"datum": 33900, "type": "quantitative", "scale": {"domain": [8001, 180039], "nice": false, "zero": false}, "axis": null}}
    },
    {
      "transform": [{"filter": "datum.i == 0"}],
      "mark": {"type": "text", "align": "left", "baseline": "middle", "dx": 135, "font": "Liberation Sans", "fontSize": 8, "color": "#111111", "text": "MAVOL10: 56894517"},
      "encoding": {"x": {"datum": -0.5}, "y": {"datum": 33900, "type": "quantitative", "scale": {"domain": [8001, 180039], "nice": false, "zero": false}, "axis": null}}
    },
    {
      "transform": [{"filter": "datum.i == 0"}],
      "mark": {"type": "rect", "fill": "#1a0a12", "stroke": "#4a1a28", "strokeWidth": 1},
      "encoding": {
        "x": {"datum": 379.5}, "x2": {"datum": 423.8},
        "y": {"datum": 31600, "type": "quantitative", "scale": {"domain": [8001, 180039], "nice": false, "zero": false}, "axis": null},
        "y2": {"datum": 35900}
      }
    },
    {
      "transform": [{"filter": "datum.i == 0"}],
      "mark": {"type": "text", "align": "center", "baseline": "middle", "font": "Noto Sans CJK SC", "fontSize": 9, "color": "#f5f53a", "text": "成交量"},
      "encoding": {"x": {"datum": 401.5}, "y": {"datum": 33750, "type": "quantitative", "scale": {"domain": [8001, 180039], "nice": false, "zero": false}, "axis": null}}
    },
    {
      "transform": [{"filter": "datum.i == 0"}],
      "mark": {"type": "text", "align": "center", "baseline": "middle", "font": "DejaVu Sans", "fontSize": 7, "color": "#e0163e", "text": "▼"},
      "encoding": {"x": {"datum": 420}, "y": {"datum": 33750, "type": "quantitative", "scale": {"domain": [8001, 180039], "nice": false, "zero": false}, "axis": null}}
    }
  ],
  "resolve": {"scale": {"y": "independent"}}
}
